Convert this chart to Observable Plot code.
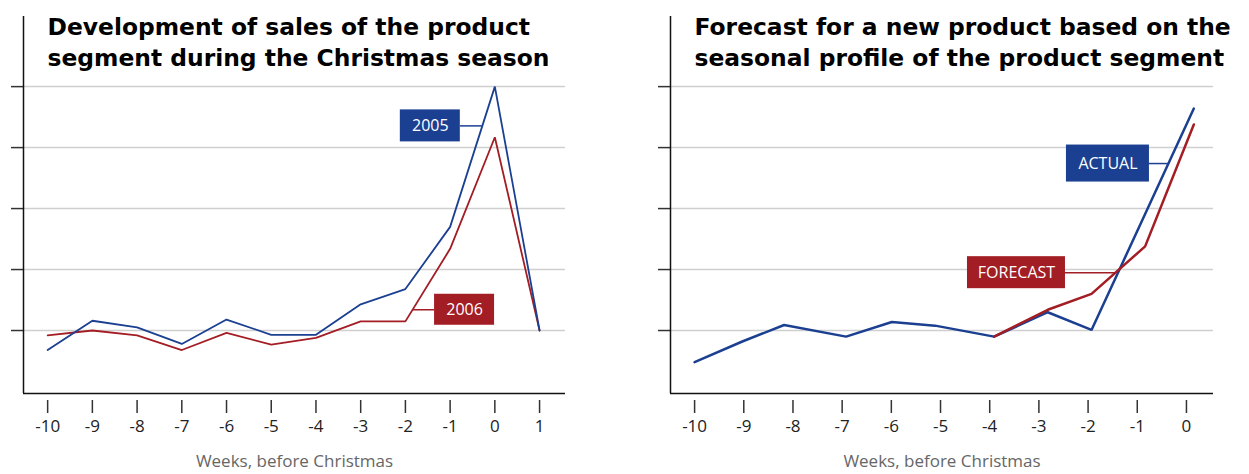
<!DOCTYPE html>
<html>
<head>
<meta charset="utf-8">
<script src="https://cdn.jsdelivr.net/npm/d3@7"></script>
<script src="https://cdn.jsdelivr.net/npm/@observablehq/plot@0.6"></script>
<style>
  html, body { margin: 0; padding: 0; background: #fff; }
  #wrap { position: relative; width: 1249px; height: 474px; overflow: hidden; }
  #left, #right { position: absolute; top: 0; }
  #left { left: 0; }
  #right { left: 625px; }
</style>
</head>
<body>
<div id="wrap"><div id="left"></div><div id="right"></div></div>
<script>
// ---- data ----
const weeksLeft = [-10, -9, -8, -7, -6, -5, -4, -3, -2, -1, 0, 1];
const sales2005 = [0.68, 1.16, 1.05, 0.78, 1.18, 0.93, 0.93, 1.43, 1.68, 2.70, 5.00, 1.00];
const sales2006 = [0.92, 1.00, 0.92, 0.68, 0.96, 0.77, 0.88, 1.15, 1.15, 2.34, 4.17, 1.00];

const weeksActual = [-10, -9.03, -8.18, -6.92, -5.99, -5.11, -3.91, -2.82, -1.93, -0.84, 0.15];
const actual = [0.48, 0.82, 1.09, 0.90, 1.14, 1.08, 0.90, 1.30, 1.01, 2.91, 4.64];
const weeksForecast = [-3.91, -2.82, -1.93, -0.84, 0.15];
const forecast = [0.90, 1.34, 1.60, 2.38, 4.38];

const ticksLeft = [-10, -9, -8, -7, -6, -5, -4, -3, -2, -1, 0, 1];
const ticksRight = [-10, -9, -8, -7, -6, -5, -4, -3, -2, -1, 0];
const gridValues = [1, 2, 3, 4, 5];

const titleLeft = "Development of sales of the product\nsegment during the Christmas season";
const titleRight = "Forecast for a new product based on the\nseasonal profile of the product segment";
const xLabel = "Weeks, before Christmas";

const BLUE = "#1b3f91";
const RED = "#a31d24";

// series label callouts: where on the series line the connector attaches
const labelsLeft = [
  {text: "2005", xs: weeksLeft, ys: sales2005, at: -0.28, side: "left", gap: 22, w: 60, h: 32, color: BLUE},
  {text: "2006", xs: weeksLeft, ys: sales2006, at: -1.84, side: "right", gap: 22, w: 60, h: 31, color: RED}
];
const labelsRight = [
  {text: "ACTUAL", xs: weeksActual, ys: actual, at: -0.366, side: "left", gap: 19, w: 83, h: 37, color: BLUE},
  {text: "FORECAST", xs: weeksForecast, ys: forecast, at: -1.443, side: "left", gap: 50, w: 98, h: 32, color: RED}
];

function interp(xs, ys, at) {
  for (let i = 0; i < xs.length - 1; i++) {
    if (at >= xs[i] && at <= xs[i + 1]) {
      const t = (at - xs[i]) / (xs[i + 1] - xs[i]);
      return ys[i] + t * (ys[i + 1] - ys[i]);
    }
  }
  return ys[ys.length - 1];
}

function labelMarks(lab) {
  const y = interp(lab.xs, lab.ys, lab.at);
  const pt = [{x: lab.at, y}];
  const left = lab.side === "left";
  return [
    Plot.ruleY(pt, {y: "y", x1: "x", x2: "x", stroke: lab.color, strokeWidth: 1.5,
      insetLeft: left ? -lab.gap : 0, insetRight: left ? 0 : -lab.gap}),
    Plot.rect(pt, {x1: "x", x2: "x", y1: "y", y2: "y", fill: lab.color,
      insetLeft: left ? -(lab.gap + lab.w) : lab.gap,
      insetRight: left ? lab.gap : -(lab.gap + lab.w),
      insetTop: -lab.h / 2, insetBottom: -lab.h / 2}),
    Plot.text(pt, {x: "x", y: "y", text: () => lab.text, fill: "white", fontSize: 16,
      textAnchor: "middle", dx: left ? -(lab.gap + lab.w / 2) : (lab.gap + lab.w / 2), dy: 0})
  ];
}

function chart({width, marginLeft, marginRight, xDomain, ticks, series, labels, title, lineWidth}) {
  const yDomain = [-0.033, 6.15];
  return Plot.plot({
    width, height: 474,
    marginTop: 16, marginBottom: 81, marginLeft, marginRight,
    style: {fontFamily: "'Open Sans', sans-serif", fontSize: "17px", background: "white", overflow: "visible"},
    x: {domain: xDomain, axis: null},
    y: {domain: yDomain, axis: null},
    marks: [
      Plot.gridY(gridValues, {stroke: "#cfcfcf", strokeOpacity: 1, strokeWidth: 1.5}),
      Plot.axisY(gridValues, {anchor: "left", tickSize: 12, tickFormat: () => "", stroke: "#333", strokeWidth: 1.5, label: null}),
      Plot.axisX(ticks, {anchor: "bottom", tickSize: 13, tickPadding: 6, dy: 7, tickFormat: d => String(d),
        stroke: "#333", fill: "#222", strokeWidth: 1.5, fontSize: 17, label: null}),
      Plot.ruleX([xDomain[0]], {stroke: "#111", strokeWidth: 1.5}),
      Plot.ruleY([yDomain[0]], {stroke: "#111", strokeWidth: 1.5}),
      ...series.map(s => Plot.line(s.xs.map((x, i) => ({x, y: s.ys[i]})),
        {x: "x", y: "y", stroke: s.color, strokeWidth: lineWidth, strokeLinejoin: "miter"})),
      ...labels.flatMap(labelMarks),
      Plot.text([title], {frameAnchor: "top-left", dx: 24, dy: -4, lineAnchor: "top", lineHeight: 1.33,
        fontSize: 23.4, fontWeight: "bold", fontFamily: "'DejaVu Sans', sans-serif", fill: "#000", text: d => d}),
      Plot.text([xLabel], {frameAnchor: "bottom", dy: 68, lineAnchor: "middle", fill: "#666", fontSize: 17, text: d => d})
    ]
  });
}

document.getElementById("left").append(chart({
  width: 625, marginLeft: 23, marginRight: 60,
  xDomain: [-10.54, 1.58], ticks: ticksLeft,
  series: [
    {xs: weeksLeft, ys: sales2006, color: RED},
    {xs: weeksLeft, ys: sales2005, color: BLUE}
  ],
  labels: labelsLeft, title: titleLeft, lineWidth: 1.8
}));

document.getElementById("right").append(chart({
  width: 624, marginLeft: 45, marginRight: 36,
  xDomain: [-10.49, 0.55], ticks: ticksRight,
  series: [
    {xs: weeksActual, ys: actual, color: BLUE},
    {xs: weeksForecast, ys: forecast, color: RED}
  ],
  labels: labelsRight, title: titleRight, lineWidth: 2.5
}));
</script>
</body>
</html>
